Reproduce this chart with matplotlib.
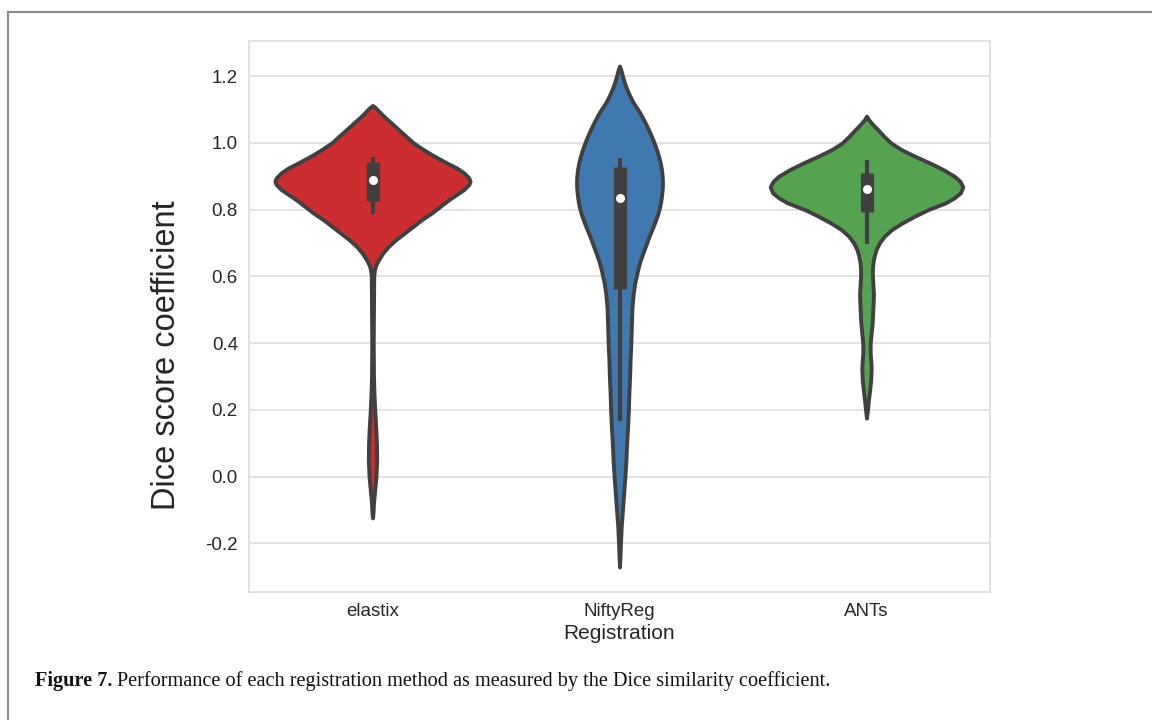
import matplotlib.pyplot as plt
import numpy as np
from matplotlib.lines import Line2D

plt.rcParams['font.family'] = ['Liberation Sans', 'DejaVu Sans']

# categories and colours (Set1, desaturated like seaborn)
methods = ['elastix', 'NiftyReg', 'ANTs']
colors = ['#cc2d30', '#4079b0', '#55a251']

# violin outlines: value -> half width
elastix_y = [1.112, 1.105, 1.095, 1.08, 1.06, 1.04, 1.02, 1.00, 0.98, 0.96, 0.94, 0.925,
             0.91, 0.895, 0.885, 0.875, 0.86, 0.845, 0.83, 0.81, 0.79, 0.77, 0.75, 0.73,
             0.71, 0.69, 0.67, 0.65, 0.635, 0.62, 0.60, 0.50, 0.40, 0.30, 0.25, 0.20,
             0.15, 0.10, 0.05, 0.00, -0.04, -0.08, -0.11, -0.124]
elastix_w = [0.0, 0.012, 0.025, 0.045, 0.075, 0.105, 0.135, 0.165, 0.205, 0.25, 0.30, 0.34,
             0.37, 0.39, 0.395, 0.39, 0.37, 0.34, 0.31, 0.275, 0.24, 0.20, 0.165, 0.13,
             0.095, 0.065, 0.042, 0.025, 0.014, 0.008, 0.005, 0.004, 0.003, 0.004, 0.006, 0.009,
             0.013, 0.016, 0.017, 0.014, 0.009, 0.004, 0.002, 0.0]

niftyreg_y = [1.23, 1.22, 1.20, 1.18, 1.16, 1.14, 1.12, 1.10, 1.08, 1.06, 1.04, 1.02, 1.00,
              0.98, 0.96, 0.94, 0.92, 0.90, 0.88, 0.86, 0.84, 0.82, 0.80, 0.78, 0.76, 0.74,
              0.72, 0.70, 0.68, 0.66, 0.64, 0.62, 0.60, 0.58, 0.55, 0.52, 0.50, 0.45, 0.40,
              0.35, 0.30, 0.25, 0.20, 0.15, 0.10, 0.05, 0.00, -0.05, -0.10, -0.15, -0.20,
              -0.24, -0.271]
niftyreg_w = [0.0, 0.005, 0.012, 0.02, 0.03, 0.042, 0.056, 0.074, 0.09, 0.104, 0.117, 0.129, 0.14,
              0.150, 0.158, 0.165, 0.17, 0.173, 0.174, 0.173, 0.17, 0.166, 0.16, 0.152, 0.142, 0.131,
              0.12, 0.11, 0.10, 0.09, 0.081, 0.074, 0.068, 0.062, 0.056, 0.052, 0.05, 0.048, 0.046,
              0.043, 0.041, 0.038, 0.036, 0.033, 0.029, 0.026, 0.022, 0.017, 0.012, 0.007, 0.004,
              0.002, 0.0]

ants_y = [1.08, 1.07, 1.055, 1.04, 1.02, 1.00, 0.98, 0.96, 0.94, 0.92, 0.90, 0.885, 0.868,
          0.85, 0.835, 0.82, 0.80, 0.78, 0.76, 0.74, 0.72, 0.70, 0.68, 0.66, 0.64, 0.62, 0.60,
          0.575, 0.548, 0.52, 0.49, 0.46, 0.43, 0.40, 0.37, 0.34, 0.319, 0.29, 0.26, 0.23,
          0.20, 0.175]
ants_w = [0.0, 0.008, 0.025, 0.045, 0.07, 0.098, 0.14, 0.195, 0.255, 0.31, 0.355, 0.378, 0.39,
          0.38, 0.355, 0.32, 0.25, 0.195, 0.145, 0.102, 0.072, 0.052, 0.039, 0.031, 0.026, 0.024,
          0.024, 0.026, 0.028, 0.027, 0.025, 0.023, 0.019, 0.015, 0.015, 0.018, 0.019, 0.017,
          0.013, 0.008, 0.004, 0.0]

# inner box stats
medians = [0.889, 0.836, 0.863]
q1 = [0.827, 0.563, 0.793]
q3 = [0.942, 0.927, 0.910]
whis_lo = [0.787, 0.167, 0.698]
whis_hi = [0.957, 0.955, 0.948]

outlines = [(elastix_y, elastix_w), (niftyreg_y, niftyreg_w), (ants_y, ants_w)]

fig = plt.figure(figsize=(11.52, 7.2), dpi=100)
ax = fig.add_axes([249 / 1152, 1 - 592 / 720, 741 / 1152, 551 / 720])

line_col = '#404040'
for i, (yy, ww) in enumerate(outlines):
    yy = np.array(yy)
    ww = np.array(ww)
    ax.fill_betweenx(yy, i - ww, i + ww, facecolor=colors[i], edgecolor=line_col,
                     linewidth=2.8, joinstyle='round', zorder=2)
    ax.plot([i, i], [whis_lo[i], whis_hi[i]], color=line_col, lw=3,
            solid_capstyle='butt', zorder=3)
    ax.plot([i, i], [q1[i], q3[i]], color=line_col, lw=9.5,
            solid_capstyle='butt', zorder=3)
    ax.plot(i, medians[i], 'o', color='white', markersize=5.5, zorder=4)

ax.set_xlim(-0.5, 2.5)
ax.set_ylim(-0.346, 1.305)
ax.set_xticks(range(len(methods)))
ax.set_xticklabels(methods)
ax.set_yticks([-0.2, 0.0, 0.2, 0.4, 0.6, 0.8, 1.0, 1.2])
ax.set_yticklabels(['-0.2', '0.0', '0.2', '0.4', '0.6', '0.8', '1.0', '1.2'])
ax.tick_params(length=0, labelsize=13.5, colors='#262626', pad=8)
ax.set_axisbelow(True)
ax.yaxis.grid(True, color='#dddddd', lw=1.2)
for s in ax.spines.values():
    s.set_color('#dddddd')
    s.set_linewidth(1.2)

ax.set_ylabel('Dice score coefficient', fontsize=23.5, color='#262626')
ax.yaxis.set_label_coords(-0.09, 0.43)
ax.set_xlabel('Registration', fontsize=15, color='#262626', labelpad=3)

# page frame
fig.add_artist(Line2D([8 / 1152, 1], [1 - 12 / 720, 1 - 12 / 720],
                      transform=fig.transFigure, color='#8a8a8a', lw=1.5))
fig.add_artist(Line2D([8 / 1152, 8 / 1152], [0, 1 - 12 / 720],
                      transform=fig.transFigure, color='#8a8a8a', lw=1.5))

# caption
cap_y = 1 - 681 / 720
t1 = fig.text(35 / 1152, cap_y, 'Figure 7.', fontsize=14.6, fontweight='bold',
              family='Liberation Serif', va='center', color='#111111')
r = fig.canvas.get_renderer()
bb = t1.get_window_extent(r)
fig.text(bb.x1 / 1152 + 5 / 1152, cap_y,
         'Performance of each registration method as measured by the Dice similarity coefficient.',
         fontsize=14.6, family='Liberation Serif', va='center', color='#111111')

fig.savefig('out.png', dpi=100)
